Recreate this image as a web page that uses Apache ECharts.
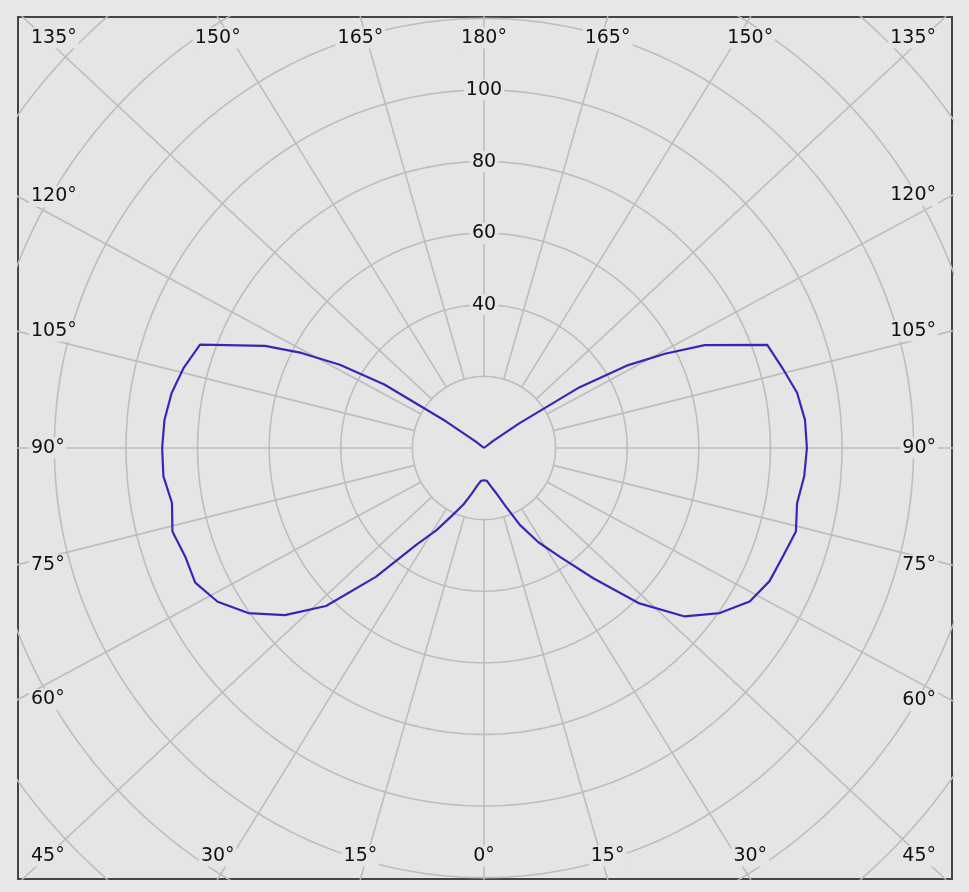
<!DOCTYPE html>
<html>
<head>
<meta charset="utf-8">
<script src="https://cdn.jsdelivr.net/npm/echarts@6/dist/echarts.min.js"></script>
<style>
  html, body { margin: 0; padding: 0; background: #e8e8e8; }
  #chart { width: 969px; height: 892px; }
</style>
</head>
<body>
<div id="chart"></div>
<script>
// ---- data ----
// gamma angles (deg, 0 = straight down, 180 = straight up)
const gammaAngles = [0, 5, 10, 15, 20, 25, 30, 35, 40, 45, 50, 55, 60, 65, 70, 75, 80, 85, 90,
  95, 100, 105, 110, 115, 117.5, 120, 122.5, 125, 127.5, 130, 135, 140, 145, 150, 155, 160, 165, 170, 175, 180];
// intensity, right half-plane (C0)
const intensityC0 = [9.0, 9.2, 10.8, 13.0, 17.0, 23.7, 30.4, 37.2, 47.5, 61.4, 73.2, 80.4, 85.7, 88.0, 88.8, 90.2, 88.8, 89.8, 90.2,
  90.0, 88.8, 86.3, 84.2, 68.0, 57.0, 46.0, 31.0, 12.0, 3.0, 0.5, 0, 0, 0, 0, 0, 0, 0, 0, 0, 0];
// intensity, left half-plane (C180)
const intensityC180 = [9.0, 9.2, 10.6, 13.2, 16.8, 20.6, 26.5, 33.0, 47.0, 62.4, 72.6, 80.4, 85.9, 89.0, 88.8, 90.1, 88.5, 89.9, 89.9,
  89.6, 88.6, 86.8, 84.4, 67.5, 57.5, 46.5, 33.0, 13.0, 3.0, 0.5, 0, 0, 0, 0, 0, 0, 0, 0, 0, 0];
// grid circles and their printed labels
const ringValues = [20, 40, 60, 80, 100, 120, 140, 160, 180];
const ringLabels = [40, 60, 80, 100];
// angle ticks (deg)
const angleTicks = [0, 15, 30, 45, 60, 75, 90, 105, 120, 135, 150, 165, 180];

// ---- layout ----
const frame = { left: 18, top: 17, right: 952, bottom: 879 };
const centerPx = [484, 448];
const pxPerUnit = 3.58;
const spokeStretch = 1.07; // spokes of the original are drawn slightly wider than the circles
const xMin = -(centerPx[0] - frame.left) / pxPerUnit;
const xMax = (frame.right - centerPx[0]) / pxPerUnit;
const yMin = -(frame.bottom - centerPx[1]) / pxPerUnit;
const yMax = (centerPx[1] - frame.top) / pxPerUnit;

const BG = '#e5e5e5';
const GRID = '#bdbdbd';
const TEXT = '#111111';
const FONT = "'DejaVu Sans', sans-serif";
const rad = d => d * Math.PI / 180;

const series = [];

// circles
ringValues.forEach(r => {
  const pts = [];
  for (let a = 0; a <= 360; a += 1) pts.push([r * Math.sin(rad(a)), r * Math.cos(rad(a))]);
  series.push({ type: 'line', data: pts, symbol: 'none', silent: true, clip: true, z: 1,
    lineStyle: { color: GRID, width: 1.6 }, animation: false });
});

// spokes (from the innermost circle outwards)
const spokeDirs = [];
angleTicks.forEach(g => {
  spokeDirs.push([g, 1]);
  if (g !== 0 && g !== 180) spokeDirs.push([g, -1]);
});
function dirOf(g, side) {
  return [side * spokeStretch * Math.sin(rad(g)), -Math.cos(rad(g))];
}
spokeDirs.forEach(([g, side]) => {
  const d = dirOf(g, side);
  const n = Math.hypot(d[0], d[1]);
  const e = [d[0] / n, d[1] / n];
  const r0 = ringValues[0], r1 = 400;
  series.push({ type: 'line', data: [[e[0] * r0, e[1] * r0], [e[0] * r1, e[1] * r1]],
    symbol: 'none', silent: true, clip: true, z: 1,
    lineStyle: { color: GRID, width: 1.6 }, animation: false });
});

// intensity curve: right half from 180 down to 0, then left half from 0 up to 180
const curve = [];
for (let i = gammaAngles.length - 1; i >= 0; i--) {
  const g = rad(gammaAngles[i]), v = intensityC0[i];
  curve.push([v * Math.sin(g), -v * Math.cos(g)]);
}
for (let i = 0; i < gammaAngles.length; i++) {
  const g = rad(gammaAngles[i]), v = intensityC180[i];
  curve.push([-v * Math.sin(g), -v * Math.cos(g)]);
}
series.push({ type: 'line', data: curve, symbol: 'none', showSymbol: false, clip: true, z: 3,
  lineStyle: { color: '#3528b6', width: 2.2 }, animation: false });

// angle labels, placed where each spoke meets the frame
const u = px => px / pxPerUnit;
const labelItems = [];
spokeDirs.forEach(([g, side]) => {
  const [sx, sy] = dirOf(g, side);
  const tX = sx > 0 ? xMax / sx : (sx < 0 ? xMin / sx : Infinity);
  const tY = sy > 0 ? yMax / sy : (sy < 0 ? yMin / sy : Infinity);
  let x, y, align = 'center';
  if (tY <= tX) {
    const px = sx * tY;
    y = sy > 0 ? yMax - u(21) : yMin + u(23);
    if (px < xMin + u(40)) { x = xMin + u(11); align = 'left'; }
    else if (px > xMax - u(40)) { x = xMax - u(14); align = 'right'; }
    else x = px;
  } else {
    y = sy * tX;
    if (sx < 0) { x = xMin + u(11); align = 'left'; } else { x = xMax - u(14); align = 'right'; }
  }
  labelItems.push({ name: g + '°', value: [x, y], label: { align: align } });
});
ringLabels.forEach(r => labelItems.push({ name: String(r), value: [0, r], label: { align: 'center' } }));

series.push({
  type: 'scatter', data: labelItems, symbolSize: 0, silent: true, z: 5, clip: false, animation: false,
  itemStyle: { opacity: 1 },
  label: { show: true, position: 'inside', formatter: p => p.name, verticalAlign: 'middle',
    color: TEXT, opacity: 1, fontSize: 19, fontFamily: FONT, backgroundColor: BG, padding: [1, 2] }
});

const chart = echarts.init(document.getElementById('chart'), null, { renderer: 'canvas' });
chart.setOption({
  backgroundColor: '#e8e8e8',
  animation: false,
  grid: { left: frame.left, top: frame.top, width: frame.right - frame.left, height: frame.bottom - frame.top,
    show: true, backgroundColor: BG, borderColor: '#444444', borderWidth: 2 },
  xAxis: { type: 'value', min: xMin, max: xMax, show: false },
  yAxis: { type: 'value', min: yMin, max: yMax, show: false },
  series: series
});
</script>
</body>
</html>
